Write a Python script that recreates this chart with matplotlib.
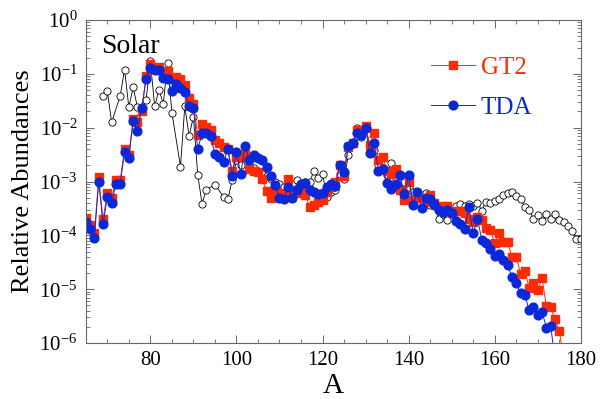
import numpy as np
import matplotlib
matplotlib.use("Agg")
import matplotlib.pyplot as plt
from matplotlib.ticker import MultipleLocator, LogLocator, NullFormatter

plt.rcParams['font.family'] = ['Liberation Serif', 'DejaVu Serif']
plt.rcParams['mathtext.fontset'] = 'custom'
plt.rcParams['mathtext.rm'] = 'Liberation Serif'

# GT2 model, A = 65..176
gt2_A = list(range(65, 177))
gt2 = [2.1e-4, 1.55e-4, 1.1e-4, 1.2e-3, 2.0e-4, 6.0e-4, 4.9e-4, 1.07e-3, 1.07e-3, 4.0e-3,
       3.1e-3, 1.45e-2, 1.3e-2, 2.0e-2, 9.3e-2, 0.15, 0.13, 0.135, 0.095, 0.112,
       0.085, 0.089, 0.079, 0.063, 0.035, 0.027, 7.4e-3, 1.17e-2, 1.02e-2, 9.1e-3,
       6.0e-3, 5.2e-3, 4.4e-3, 4.0e-3, 1.6e-3, 2.9e-3, 2.8e-3, 3.3e-3, 1.7e-3, 1.6e-3,
       1.5e-3, 1.1e-3, 6.8e-4, 4.9e-4, 7.1e-4, 5.2e-4, 6.2e-4, 1.1e-3, 6.5e-4, 6.9e-4,
       6.0e-4, 5.6e-4, 3.4e-4, 3.6e-4, 4.2e-4, 4.5e-4, 6.3e-4, 7.9e-4, 1.0e-3, 2.0e-3,
       1.26e-3, 4.4e-3, 5.1e-3, 8.9e-3, 8.9e-3, 1.07e-2, 4.8e-3, 8.1e-3, 2.5e-3, 2.8e-3,
       1.6e-3, 1.4e-3, 1.7e-3, 6.9e-4, 4.5e-4, 1.0e-3, 4.5e-4, 5.6e-4, 5.0e-4, 4.2e-4,
       5.6e-4, 4.0e-4, 3.2e-4, 3.5e-4, 3.5e-4, 2.6e-4, 2.8e-4, 2.8e-4, 2.6e-4, 2.0e-4,
       1.8e-4, 2.2e-4, 1.9e-4, 1.4e-4, 1.26e-4, 7.1e-5, 1.1e-4, 7.6e-5, 7.6e-5, 4.0e-5,
       4.0e-5, 1.95e-5, 2.2e-5, 1.07e-5, 1.3e-5, 9.8e-6, 1.6e-5, 4.9e-6, 4.6e-6, 2.8e-6,
       1.7e-6, 5e-7]

# TDA model, A = 65..174
tda_A = list(range(65, 175))
tda = [1.8e-4, 1.3e-4, 9.1e-5, 1.0e-3, 1.6e-4, 5.2e-4, 4.0e-4, 9.1e-4, 9.1e-4, 3.5e-3,
       2.7e-3, 1.35e-2, 8.7e-3, 2.3e-2, 7.9e-2, 0.126, 0.12, 0.12, 0.083, 0.079,
       0.047, 0.066, 0.054, 0.045, 0.025, 0.023, 4.0e-3, 7.8e-3, 8.1e-3, 6.9e-3,
       3.2e-3, 2.9e-3, 2.3e-3, 4.0e-3, 1.26e-3, 3.5e-3, 1.4e-3, 4.6e-3, 2.5e-3, 3.1e-3,
       2.7e-3, 2.5e-3, 1.9e-3, 1.26e-3, 8.5e-4, 5.0e-4, 4.7e-4, 7.8e-4, 5.0e-4, 7.1e-4,
       9.1e-4, 9.5e-4, 6.9e-4, 6.5e-4, 5.9e-4, 6.2e-4, 7.8e-4, 8.9e-4, 8.1e-4, 2.0e-3,
       1.5e-3, 4.6e-3, 5.1e-3, 7.8e-3, 7.4e-3, 9.8e-3, 3.4e-3, 5.2e-3, 1.6e-3, 1.7e-3,
       9.5e-4, 7.4e-4, 8.9e-4, 1.3e-3, 5.9e-4, 1.3e-3, 3.6e-4, 6.5e-4, 3.2e-4, 4.9e-4,
       4.7e-4, 3.9e-4, 3.0e-4, 2.75e-4, 2.95e-4, 2.6e-4, 1.86e-4, 1.6e-4, 1.3e-4, 3.3e-4,
       1.1e-4, 2.0e-4, 8.3e-5, 7.1e-5, 5.5e-5, 4.1e-5, 4.5e-5, 3.5e-5, 2.8e-5, 1.7e-5,
       1.3e-5, 8.5e-6, 7.8e-6, 4.1e-6, 4.6e-6, 3.3e-6, 3.8e-6, 1.95e-6, 2.1e-6, 5e-7]

# solar r-process abundances
solar_A = [69, 70, 71, 73, 74, 75, 76, 77, 79, 80, 81, 82, 83, 84, 85, 87, 88, 89, 90, 91,
           92, 93, 95, 97, 98, 99, 100, 101, 102, 103, 104, 105, 106, 107, 108, 109, 110,
           111, 112, 113, 114, 115, 116, 117, 118, 119, 120, 121, 122, 123, 124, 125, 126,
           127, 128, 129, 130, 131, 132, 133, 134, 135, 136, 137, 138, 139, 140, 141, 142,
           143, 144, 145, 146, 147, 148, 149, 150, 151, 152, 153, 154, 155, 156, 157, 158,
           159, 160, 161, 162, 163, 164, 165, 166, 167, 168, 169, 170, 171, 172, 173, 174,
           175, 176, 177, 178, 179, 180]
solar = [0.039, 0.048, 0.0126, 0.039, 0.12, 0.024, 0.056, 0.024, 0.032, 0.17,
         0.025, 0.05, 0.028, 0.16, 0.019, 0.0019, 0.025, 0.007, 0.016, 0.00135,
         3.9e-4, 7e-4, 8.8e-4, 5.2e-4, 4.7e-4, 1.07e-3, 2.5e-3, 2.0e-3, 2.8e-3, 2.0e-3,
         1.8e-3, 1.6e-3, 1.4e-3, 1.26e-3, 1.1e-3, 1.0e-3, 8.9e-4, 7.9e-4, 1.07e-3, 8.9e-4,
         1.07e-3, 7.9e-4, 1.0e-3, 1.0e-3, 1.55e-3, 1.15e-3, 1.4e-3, 5.2e-4, 6.3e-4, 7.1e-4,
         1.4e-3, 1.1e-3, 3.1e-3, 5.0e-3, 9.8e-3, 6.6e-3, 1.0e-2, 4.5e-3, 3.8e-3, 2.0e-3,
         1.8e-3, 1.3e-3, 2.2e-3, 1.07e-3, 1.0e-3, 1.0e-3, 7.9e-4, 6.3e-4, 6.3e-4, 5.0e-4,
         6.2e-4, 3.6e-4, 3.5e-4, 2.05e-4, 2.5e-4, 1.9e-4, 2.8e-4, 3.5e-4, 3.9e-4, 3.5e-4,
         3.9e-4, 3.5e-4, 4.0e-4, 2.9e-4, 4.2e-4, 4.0e-4, 4.4e-4, 4.7e-4, 5.6e-4, 6.2e-4,
         6.5e-4, 5.4e-4, 4.7e-4, 3.4e-4, 3.0e-4, 2.05e-4, 2.4e-4, 1.85e-4, 2.5e-4, 2.0e-4,
         2.5e-4, 1.9e-4, 1.8e-4, 1.5e-4, 1.2e-4, 8.7e-5, 8.7e-5]

red = '#ff2a00'
blue = '#0a28d8'

fig = plt.figure(figsize=(6, 3.99), dpi=100)
ax = fig.add_axes([0.143, 0.140, 0.825, 0.810])

ax.plot(solar_A, solar, color='black', lw=0.6, marker='o', ms=5.2,
        mfc='white', mec='black', mew=0.6)
ax.plot(gt2_A, gt2, color=red, lw=0.7, marker='s', ms=5.8, mec=red, mfc=red,
        label='GT2')
ax.plot(tda_A, tda, color=blue, lw=0.7, marker='o', ms=6.3, mec=blue, mfc=blue,
        label='TDA')

ax.set_yscale('log')
ax.set_xlim(65, 180)
ax.set_ylim(1e-6, 1)

ax.xaxis.set_major_locator(MultipleLocator(20))
ax.xaxis.set_minor_locator(MultipleLocator(5))
ax.yaxis.set_major_locator(LogLocator(base=10, numticks=10))
ax.yaxis.set_minor_locator(LogLocator(base=10, subs=np.arange(2, 10), numticks=10))
ax.yaxis.set_minor_formatter(NullFormatter())

ax.tick_params(which='both', direction='in', top=True, right=True, color='#666666')
ax.tick_params(which='major', length=6, width=0.7, labelsize=15, pad=6)
ax.tick_params(which='minor', length=3, width=0.6)
for s in ax.spines.values():
    s.set_color('#666666')
    s.set_linewidth(0.8)

ax.set_xlabel('A', fontsize=21, labelpad=2)
ax.set_ylabel('Relative Abundances', fontsize=19, labelpad=4)

ax.text(0.03, 0.898, 'Solar', transform=ax.transAxes, fontsize=20, va='baseline')

ax.legend(loc='upper left', bbox_to_anchor=(0.672, 0.925), frameon=False,
          fontsize=18, handlelength=1.75, handletextpad=0.25, labelspacing=0.7,
          borderpad=0, labelcolor='linecolor')

fig.savefig('out.png', dpi=100)
